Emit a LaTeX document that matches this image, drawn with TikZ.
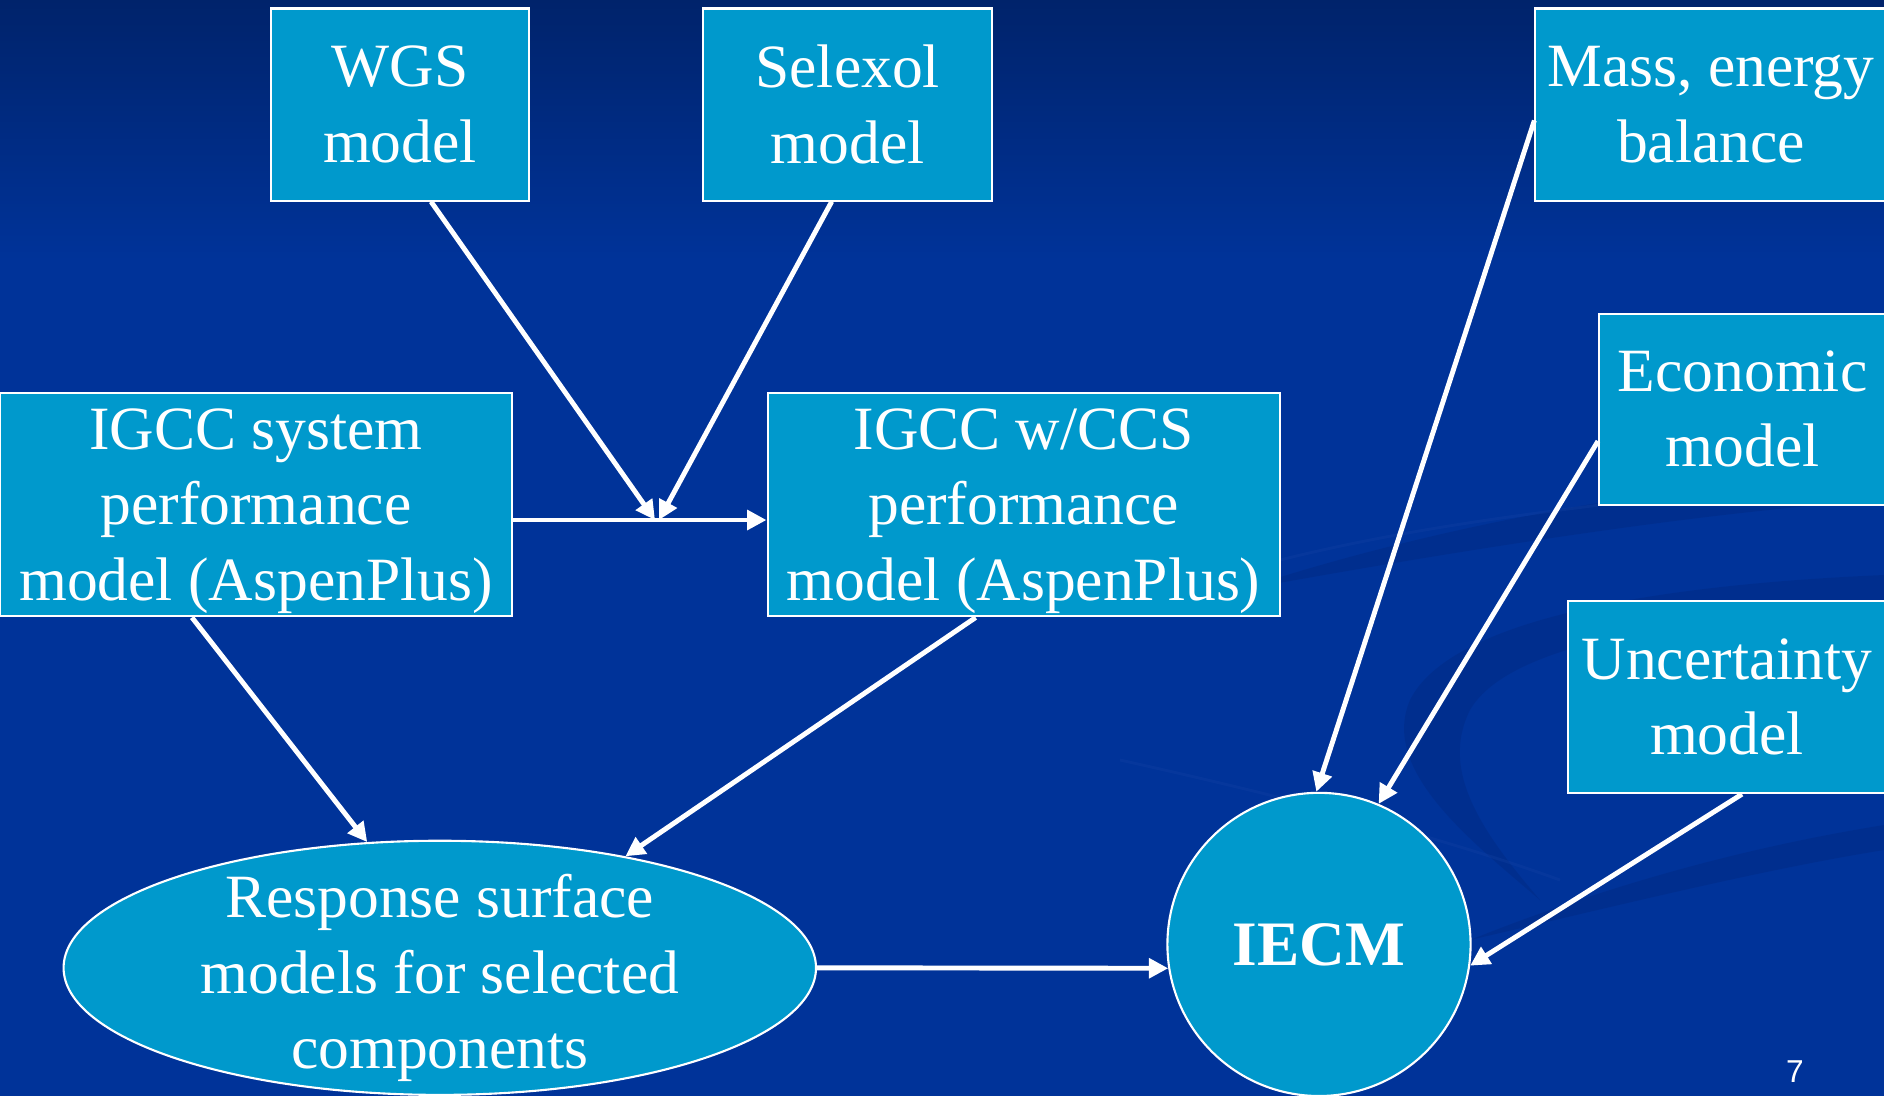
\documentclass[tikz,border=0pt]{standalone}
\usepackage{fontspec}
\setmainfont{Liberation Serif}
\newfontfamily\pagenumfont{Liberation Sans}
\usetikzlibrary{arrows.meta,shapes.geometric}
\definecolor{slideblue}{HTML}{003399}
\definecolor{slidetop}{HTML}{00236B}
\definecolor{swirldark}{HTML}{00287F}
\definecolor{swirllight}{HTML}{1846A8}
\definecolor{boxcyan}{HTML}{0099CC}

\begin{document}
\begin{tikzpicture}[x=0.01cm,y=-0.01cm,
  boxtext/.style={text=white,align=center,font=\fontsize{17.5}{21.5}\selectfont},
  model/.style={boxtext,draw=white,line width=0.6pt,fill=boxcyan,inner sep=0pt},
  feed/.style={-{Triangle[length=5.5pt,width=5.5pt]},white,line width=1.4pt}]

\useasboundingbox (0,0) rectangle (1884,1096);
\clip (0,0) rectangle (1884,1096);

% slide background
\fill[slideblue] (0,0) rectangle (1884,1096);
\shade[top color=slidetop,bottom color=slideblue] (0,0) rectangle (1884,260);

% faint swirls at the lower right
\begin{scope}[opacity=0.4]
  \fill[swirldark] (1240,590) .. controls (1450,520) and (1700,480) .. (1884,470)
    -- (1884,500) .. controls (1700,512) and (1460,550) .. (1240,590) -- cycle;
  \fill[swirldark] (1884,575) .. controls (1650,585) and (1450,620) .. (1410,700)
    .. controls (1380,770) and (1470,840) .. (1540,900)
    .. controls (1480,830) and (1440,770) .. (1470,710)
    .. controls (1510,640) and (1700,615) .. (1884,610) -- cycle;
  \fill[swirldark] (1470,940) .. controls (1620,880) and (1760,845) .. (1884,825)
    -- (1884,850) .. controls (1760,870) and (1620,905) .. (1470,940) -- cycle;
\end{scope}
\begin{scope}[opacity=0.25]
  \draw[swirllight,line width=0.8pt] (1120,760) .. controls (1300,800) and (1450,840) .. (1560,880);
  \draw[swirllight,line width=0.8pt] (1280,560) .. controls (1400,530) and (1520,515) .. (1600,505);
\end{scope}

% model boxes
\node[model,minimum width=2.57cm,minimum height=1.92cm] (wgs) at (400,104.5) {WGS\\model};
\node[model,minimum width=2.89cm,minimum height=1.92cm] (selexol) at (847.7,104.5) {Selexol\\model};
\node[model,minimum width=3.51cm,minimum height=1.92cm] (mass) at (1711,104.5) {Mass, energy\\balance};
\node[model,minimum width=5.12cm,minimum height=2.235cm,text depth=0pt] (igcc) at (256,504.6)
  {IGCC system\\performance\\model (AspenPlus)};
\node[model,minimum width=5.12cm,minimum height=2.235cm,text depth=0pt] (ccs) at (1023.7,504.6)
  {IGCC w/CCS\\performance\\model (AspenPlus)};
\node[model,minimum width=2.87cm,minimum height=1.91cm] (econ) at (1742.6,409.1) {Economic\\model};
\node[model,minimum width=3.18cm,minimum height=1.92cm] (uncert) at (1727,697) {Uncertainty\\model};

% response surface ellipse and IECM
\node[model,ellipse,minimum width=7.52cm,minimum height=2.54cm] (rsm) at (439.8,967.8) {};
\node[boxtext] (rsmtext) at (439.8,978) {Response surface\\models for selected\\components};
\node[model,circle,minimum size=3.03cm,font=\fontsize{18}{21.5}\selectfont\bfseries] (iecm)
  at (1319,944.4) {IECM};

\node[text=white,font=\pagenumfont\fontsize{9}{11}\selectfont] (pagenum) at (1795,1072) {7};

% connectors
\coordinate (join) at (657,520);
\draw[feed] ([xshift=0.31cm]wgs.south) -- ([xshift=-0.02cm]join);
\draw[feed] ([xshift=-0.16cm]selexol.south) -- ([xshift=0.02cm]join);
\draw[feed] (igcc.east |- join) -- (ccs.west |- join);
\draw[feed] ([xshift=-0.64cm]igcc.south) -- (rsm.120);
\draw[feed] ([xshift=-0.48cm]ccs.south) -- (rsm.31);
\draw[feed] (rsm.east) -- (iecm.189);
\draw[feed] ([yshift=-0.16cm]mass.west) -- (iecm.91);
\draw[feed] ([yshift=-0.32cm]econ.west) -- (iecm.67);
\draw[feed] ([xshift=0.15cm]uncert.south) -- (iecm.-8);

\end{tikzpicture}
\end{document}
